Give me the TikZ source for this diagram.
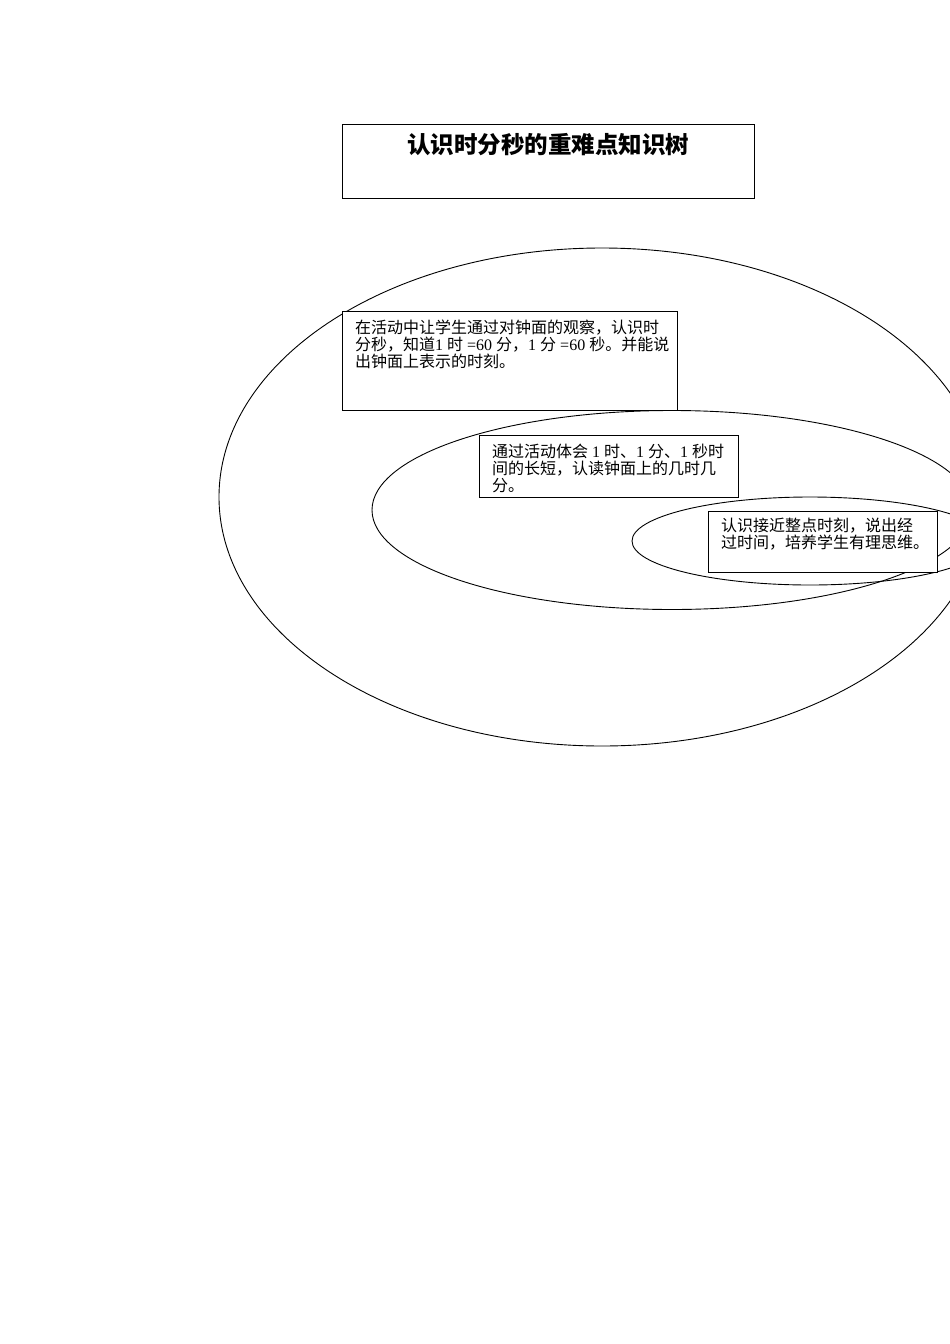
\documentclass[tikz,border=0pt]{standalone}
\usepackage{fontspec}
\setmainfont{Liberation Serif}
\newfontfamily\cjk{Noto Sans CJK SC}
\newcommand{\lat}[1]{\textrm{#1}}
\usetikzlibrary{shapes.geometric, positioning}
\tikzstyle{block} = [rectangle, anchor=north west, draw=black, line width=0.9pt, fill=white, inner sep=0pt]
\tikzstyle{texte} = [anchor=north west, align=left, inner sep=0pt, font=\cjk\fontsize{16}{17}\selectfont]
\tikzstyle{titre} = [anchor=north, inner sep=0pt, font=\cjk\fontsize{23.5}{26}\selectfont\bfseries]
\tikzstyle{cercle} = [ellipse, draw=black, line width=0.9pt, inner sep=0pt]

\begin{document}
\begin{tikzpicture}[x=1pt, y=-1pt]
        \useasboundingbox (0,0) rectangle (950,1344);
        \clip (0,0) rectangle (950,1344);
        \node (tit) [block, minimum width=412, minimum height=74] at (342,124) {};
        \node (tit1) [titre, below=9pt of tit.north] {认识时分秒的重难点知识树};

        \node (ell1) [cercle, minimum width=766, minimum height=498] at (602,497) {};
        \node (ell2) [cercle, minimum width=600, minimum height=199] at (672,510) {};
        \node (ell3) [cercle, minimum width=356, minimum height=88] at (810,541) {};

        \node (blo1) [block, minimum width=335, minimum height=99] at (342,311) {};
        \node (txt1) [texte, below right=9pt and 13pt of blo1.north west] {在活动中让学生通过对钟面的观察，认识时\\分秒，知道\lat{1 }时\lat{ =60 }分，\lat{1 }分\lat{ =60 }秒。并能说\\出钟面上表示的时刻。};
        \node (blo2) [block, minimum width=259, minimum height=62] at (479,435) {};
        \node (txt2) [texte, below right=9pt and 13pt of blo2.north west] {通过活动体会\lat{ 1 }时、\lat{1 }分、\lat{1 }秒时\\间的长短，认读钟面上的几时几\\分。};
        \node (blo3) [block, minimum width=229, minimum height=61] at (708,511) {};
        \node (txt3) [texte, below right=7pt and 13pt of blo3.north west] {认识接近整点时刻，说出经\\过时间，培养学生有理思维。};
 \end{tikzpicture}
\end{document}
